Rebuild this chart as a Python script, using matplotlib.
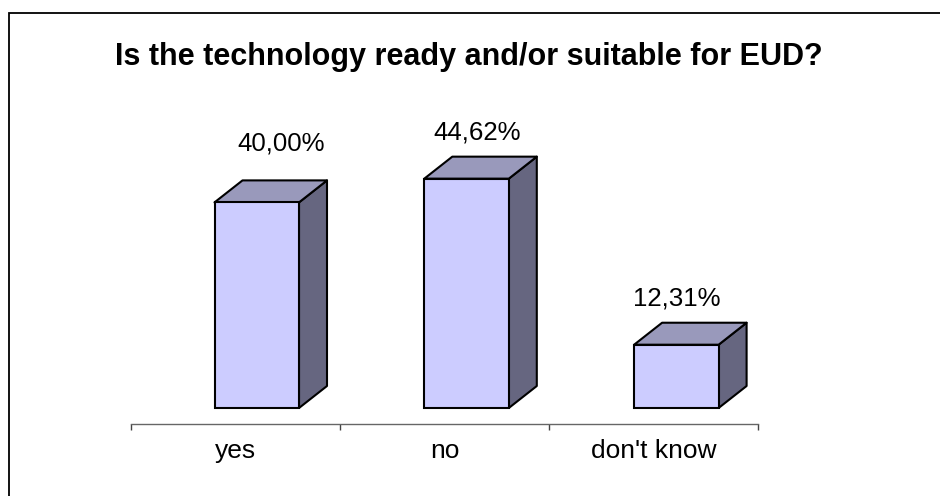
import matplotlib
matplotlib.use('Agg')
import matplotlib.pyplot as plt
from matplotlib.lines import Line2D
from matplotlib.patches import Polygon

categories = ['yes', 'no', "don't know"]
shares = [40.00, 44.62, 12.31]
share_labels = ['40,00%', '44,62%', '12,31%']

W, H = 940, 496
FRONT = '#ccccff'
TOP = '#9999bb'
SIDE = '#666680'

plt.rcParams['font.family'] = ['Liberation Sans', 'DejaVu Sans']

fig = plt.figure(figsize=(W / 100, H / 100), dpi=100)

# frame only has top and left edges, the others run off the canvas
fig.add_artist(Line2D([9 / W, 9 / W, 1], [0, 1 - 12.5 / H, 1 - 12.5 / H], transform=fig.transFigure,
                      color='black', linewidth=1.3, solid_joinstyle='miter'))

# axes run from the first to the last category tick, bottom edge is the axis line
left, right, axis_y, top_y = 131, 758, 424, 100
ax = fig.add_axes([left / W, 1 - axis_y / H, (right - left) / W, (axis_y - top_y) / H])

px_per_pct = 5.14
zero_y = 408
ax.set_xlim(0, len(categories))
ax.set_ylim(-(axis_y - zero_y) / px_per_pct, (zero_y - top_y) / px_per_pct)

px_per_cat = (right - left) / len(categories)
bar_w = 84.5 / px_per_cat
bar_off = 21 / px_per_cat
nudge = 0.8 / px_per_cat
dx = 28 / px_per_cat
dy = 22 / px_per_pct

# label offsets differ per bar, first one sits further right and higher
label_gap = [37, 24, 24]
label_dx = [67, 53, 43]

for i, v in enumerate(shares):
    x0 = i + 0.5 - 84 / px_per_cat / 2 + bar_off + i * nudge
    x1 = x0 + bar_w
    side = Polygon([(x1, 0), (x1 + dx, dy), (x1 + dx, v + dy), (x1, v)], closed=True,
                   facecolor=SIDE, edgecolor='black', linewidth=1.5, joinstyle='round', zorder=2)
    cap = Polygon([(x0, v), (x0 + dx, v + dy), (x1 + dx, v + dy), (x1, v)], closed=True,
                  facecolor=TOP, edgecolor='black', linewidth=1.5, joinstyle='round', zorder=2)
    ax.add_patch(side)
    ax.add_patch(cap)
    ax.bar(x0, v, width=bar_w, align='edge', color=FRONT, edgecolor='black', linewidth=1.5, zorder=3)
    ax.text(x0 + label_dx[i] / px_per_cat, v + dy + label_gap[i] / px_per_pct, share_labels[i],
            ha='center', va='center', fontsize=18.6, color='black')

for s in ['top', 'left', 'right']:
    ax.spines[s].set_visible(False)
ax.spines['bottom'].set_color('#666666')
ax.spines['bottom'].set_linewidth(1)
ax.set_yticks([])
ax.set_xticks(range(len(categories) + 1))
ax.set_xticklabels([])
ax.set_xticks([i + 0.5 for i in range(len(categories))], minor=True)
ax.set_xticklabels(categories, minor=True, fontsize=19)
ax.tick_params(axis='x', which='major', length=4.5, width=1, color='#444444')
ax.tick_params(axis='x', which='minor', length=0, pad=11)

fig.text(468.5 / W, 1 - 56.5 / H, 'Is the technology ready and/or suitable for EUD?',
         ha='center', va='center', fontsize=22, fontweight='bold', color='black')

fig.savefig('out.png', dpi=100)
